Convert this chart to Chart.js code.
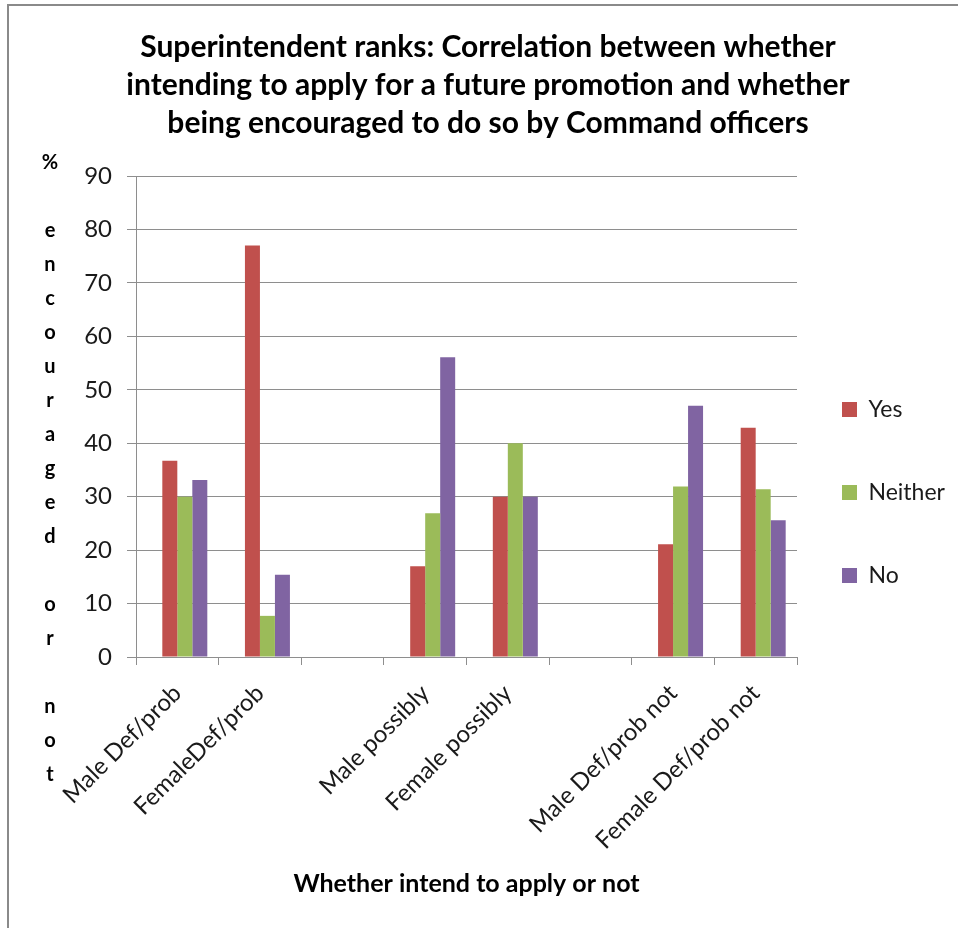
<!DOCTYPE html>
<html>
<head>
<meta charset="utf-8">
<title>Superintendent ranks</title>
<script src="https://cdn.jsdelivr.net/npm/chart.js@4.4.1/dist/chart.umd.min.js"></script>
<style>
  html, body { margin: 0; padding: 0; background: #ffffff; overflow: hidden; }
  canvas { display: block; }
</style>
</head>
<body>
<canvas id="chart" width="958" height="928"></canvas>
<script>
// Categories on the x axis (blank entries separate the three groups)
const categories = [
  "Male Def/prob", "FemaleDef/prob", "",
  "Male possibly", "Female possibly", "",
  "Male Def/prob not", "Female Def/prob not"
];

// Percentage values per response
const blankValues   = [null, null, null, null, null, null, null, null];
const yesValues     = [36.7, 77.0, null, 17.0, 30.0, null, 21.1, 42.9];
const neitherValues = [30.0,  7.7, null, 26.9, 40.0, null, 31.9, 31.4];
const noValues      = [33.1, 15.4, null, 56.1, 30.0, null, 47.0, 25.6];

const seriesNames = ["Yes", "Neither", "No"];
const yTickValues = [0, 10, 20, 30, 40, 50, 60, 70, 80, 90];

const chartTitle = [
  "Superintendent ranks: Correlation between whether",
  "intending to apply for a future promotion and whether",
  "being encouraged to do so by Command officers"
];
const xAxisTitle = "Whether intend to apply or not";
const yAxisTitle = "% encouraged or not";

// ---- layout -------------------------------------------------------------
const FONT = "Lato";
const TICK_SIZE = 24;
const LEGEND_SIZE = 23;
const LEGEND_BOX = 15;
const LEGEND_GAP = 45;      // horizontal offset and vertical spacing of legend rows
const AXIS_GREY = "#8e8e8e";
const PLOT_LEFT = 136;      // left edge of the plot area
const RIGHT_BLOCK = 161;    // room right of the plot for the legend
const TITLE_SHIFT = 18;     // title centre sits right of the canvas centre

// width the legend box will claim, so the padding can be set around it
const measureCtx = document.createElement("canvas").getContext("2d");
measureCtx.font = LEGEND_SIZE + "px " + FONT;
const widestName = Math.max(...seriesNames.map(n => measureCtx.measureText(n).width));
const legendWidth = LEGEND_BOX + LEGEND_SIZE / 2 + widestName + 10 + LEGEND_GAP;
const padRight = Math.max(0, RIGHT_BLOCK - legendWidth);
const padLeft = padRight + TITLE_SHIFT;

// outer frame (top and left edges)
const framePlugin = {
  id: "frame",
  beforeDraw(chart) {
    const ctx = chart.ctx;
    ctx.save();
    ctx.fillStyle = "#ffffff";
    ctx.fillRect(0, 0, chart.width, chart.height);
    ctx.fillStyle = "#8a8a8a";
    ctx.fillRect(7, 4, 2, chart.height - 4);
    ctx.fillRect(7, 4, chart.width - 7, 2);
    ctx.restore();
  }
};

// y axis title written as a column of single characters
const stackedTitlePlugin = {
  id: "stackedTitle",
  afterDraw(chart) {
    const ctx = chart.ctx;
    const top = chart.chartArea.top - 13;
    ctx.save();
    ctx.font = "bold 20px " + FONT;
    ctx.fillStyle = "#000000";
    ctx.textAlign = "center";
    ctx.textBaseline = "middle";
    Array.from(yAxisTitle).forEach((ch, i) => {
      if (ch !== " ") ctx.fillText(ch, 50, top + i * 34);
    });
    ctx.restore();
  }
};

const colors = ["rgba(0,0,0,0)", "#C0504D", "#9BBB59", "#8064A2"];
const seriesData = [blankValues, yesValues, neitherValues, noValues];
const seriesLabels = [""].concat(seriesNames);

new Chart(document.getElementById("chart"), {
  type: "bar",
  data: {
    labels: categories,
    datasets: seriesData.map((d, i) => ({
      label: seriesLabels[i],
      data: d,
      backgroundColor: colors[i],
      borderWidth: 0,
      categoryPercentage: 0.726,
      barPercentage: 1.0
    }))
  },
  options: {
    responsive: false,
    animation: false,
    devicePixelRatio: 1,
    layout: { padding: { left: padLeft, right: padRight, top: 0, bottom: 0 } },
    plugins: {
      title: {
        display: true,
        text: chartTitle,
        color: "#000000",
        font: { family: FONT, size: 30, weight: "bold", lineHeight: 38 / 30 },
        padding: { top: 28, bottom: 34 }
      },
      legend: {
        display: true,
        position: "right",
        align: "start",
        title: { display: true, text: "", font: { size: 1, lineHeight: 1 }, padding: { top: 352, bottom: 0 } },
        labels: {
          boxWidth: LEGEND_BOX,
          boxHeight: LEGEND_BOX,
          padding: LEGEND_GAP,
          color: "#1a1a1a",
          font: { family: FONT, size: LEGEND_SIZE, lineHeight: 38 / LEGEND_SIZE },
          generateLabels(chart) {
            return Chart.defaults.plugins.legend.labels.generateLabels(chart)
              .filter(item => chart.data.datasets[item.datasetIndex].label)
              .map(item => Object.assign(item, { text: [item.text], lineWidth: 0 }));
          }
        }
      },
      tooltip: { enabled: false }
    },
    scales: {
      x: {
        ticks: {
          autoSkip: false,
          minRotation: 45,
          maxRotation: 45,
          padding: 14,
          color: "#1a1a1a",
          font: { family: FONT, size: TICK_SIZE }
        },
        grid: { drawOnChartArea: false, drawTicks: true, tickLength: 8, color: AXIS_GREY },
        border: { color: AXIS_GREY, width: 1 },
        title: {
          display: true,
          text: xAxisTitle,
          color: "#000000",
          font: { family: FONT, size: 25, weight: "bold" },
          padding: { top: 0, bottom: 29 }
        }
      },
      y: {
        min: 0,
        max: 90,
        afterBuildTicks(scale) {
          scale.ticks = yTickValues.map(v => ({ value: v }));
        },
        afterFit(scale) {
          scale.width = PLOT_LEFT - padLeft;
        },
        ticks: {
          padding: 15,
          color: "#1a1a1a",
          font: { family: FONT, size: TICK_SIZE }
        },
        grid: { color: AXIS_GREY, lineWidth: 1, tickLength: 9, drawTicks: true },
        border: { color: AXIS_GREY, width: 1 }
      }
    }
  },
  plugins: [framePlugin, stackedTitlePlugin]
});
</script>
</body>
</html>
